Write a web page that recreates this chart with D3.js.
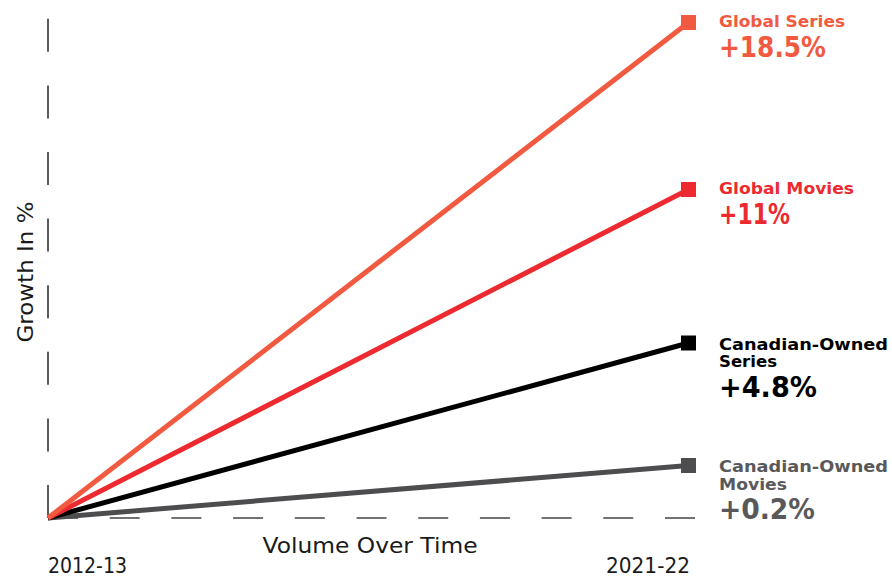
<!DOCTYPE html>
<html>
<head>
<meta charset="utf-8">
<script src="https://cdn.jsdelivr.net/npm/d3@7"></script>
<style>
  html, body { margin: 0; padding: 0; background: #fff; }
  svg { display: block; }
  text { font-family: "DejaVu Sans", "Noto Sans", sans-serif; }
</style>
</head>
<body>
<svg id="chart" width="892" height="578"></svg>
<script>
// ---- data ----
const periods = ["2012-13", "2021-22"];
const seriesNames = ["Global Series", "Global Movies", "Canadian-Owned Series", "Canadian-Owned Movies"];
const startValues = [0, 0, 0, 0];
const endValues = [18.5, 11, 4.8, 0.2];
const valueLabels = ["+18.5%", "+11%", "+4.8%", "+0.2%"];
const seriesColors = ["#F15A40", "#ED2A2F", "#000000", "#4D4D4F"];
const labelColors = ["#F15A40", "#ED2A2F", "#000000", "#59595B"];
const xTitle = "Volume Over Time";
const yTitle = "Growth In %";

// ---- layout ----
const svg = d3.select("#chart");
const x = d3.scalePoint().domain(periods).range([48, 688.5]);
// illustrative (non-proportional) growth scale, piecewise linear
const yDomain = [0].concat(endValues.slice().sort((a, b) => a - b));
const y = d3.scaleLinear().domain(yDomain).range([518, 465.5, 343, 189.5, 22.5]);

// approximate reference text widths (for fitting the fallback font)
const fitWidths = {
  "Global Series": 126, "Global Movies": 135, "Canadian-Owned": 169,
  "Series": 58, "Movies": 68,
  "+18.5%": 107, "+11%": 71, "+4.8%": 98, "+0.2%": 96,
  "Growth In %": 141, "Volume Over Time": 215, "2012-13": 79, "2021-22": 84
};
function fit(sel, str) {
  if (fitWidths[str]) sel.attr("textLength", fitWidths[str]).attr("lengthAdjust", "spacingAndGlyphs");
  return sel;
}

// y axis: dashed vertical line
svg.append("line")
  .attr("x1", x(periods[0])).attr("x2", x(periods[0]))
  .attr("y1", y(0)).attr("y2", 18.5)
  .attr("stroke", "#333").attr("stroke-width", 1.6)
  .attr("stroke-dasharray", "33,33.6");

// x axis: dashed baseline
svg.append("line")
  .attr("x1", x(periods[0])).attr("x2", 697)
  .attr("y1", y(0)).attr("y2", y(0))
  .attr("stroke", "#444").attr("stroke-width", 1.4)
  .attr("stroke-dasharray", "30,31.7");

// series lines
const series = seriesNames.map((name, i) => ({
  name, i,
  pts: [{p: periods[0], v: startValues[i]}, {p: periods[1], v: endValues[i]}]
}));
const line = d3.line().x(d => x(d.p)).y(d => y(d.v));

const order = [3, 2, 1, 0];
order.forEach(i => {
  svg.append("path")
    .attr("d", line(series[i].pts))
    .attr("fill", "none")
    .attr("stroke", seriesColors[i])
    .attr("stroke-width", 5)
    .attr("stroke-linecap", "butt");
});
order.forEach(i => {
  svg.append("rect")
    .attr("x", x(periods[1]) - 7.5).attr("y", y(endValues[i]) - 7.5)
    .attr("width", 15).attr("height", 15)
    .attr("fill", seriesColors[i]);
});

// end labels (one text element per series, lines as tspans)
const labelX = 719;
const nameSize = 15, nameStep = 17.6;
series.forEach(s => {
  const i = s.i;
  const yy = y(endValues[i]);
  const lines = s.name.startsWith("Canadian-Owned ")
    ? ["Canadian-Owned", s.name.replace("Canadian-Owned ", "")]
    : [s.name];
  const first = yy + (lines.length === 1 ? 4.5 : 6.5);
  const t = svg.append("text")
    .attr("x", labelX).attr("y", first)
    .attr("fill", labelColors[i])
    .attr("font-weight", 700);
  lines.forEach((ln, k) => {
    const ts = t.append("tspan")
      .attr("x", labelX).attr("y", first + k * nameStep)
      .attr("font-size", nameSize)
      .text(ln);
    fit(ts, ln);
  });
  const tv = t.append("tspan")
    .attr("x", labelX).attr("y", first + (lines.length - 1) * nameStep + 29.5)
    .attr("font-size", 29)
    .text(valueLabels[i]);
  fit(tv, valueLabels[i]);
});

// axis titles & period labels
fit(svg.append("text")
  .attr("transform", "translate(33,272) rotate(-90)")
  .attr("text-anchor", "middle")
  .attr("font-size", 21).attr("fill", "#1a1a1a")
  .text(yTitle), yTitle);

fit(svg.append("text")
  .attr("x", 370).attr("y", 553)
  .attr("text-anchor", "middle")
  .attr("font-size", 21).attr("fill", "#1a1a1a")
  .text(xTitle), xTitle);

fit(svg.append("text")
  .attr("x", x(periods[0])).attr("y", 573)
  .attr("font-size", 21).attr("fill", "#1a1a1a")
  .text(periods[0]), periods[0]);

fit(svg.append("text")
  .attr("x", 690).attr("y", 573)
  .attr("text-anchor", "end")
  .attr("font-size", 21).attr("fill", "#1a1a1a")
  .text(periods[1]), periods[1]);
</script>
</body>
</html>
